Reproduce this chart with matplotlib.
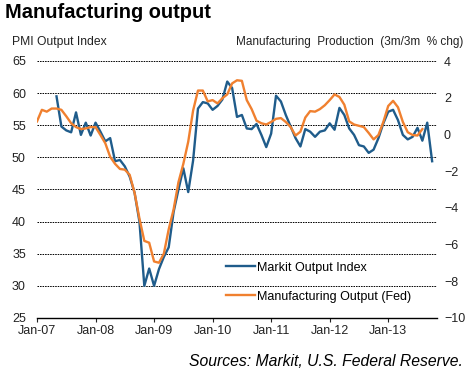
import numpy as np
import matplotlib
matplotlib.use("Agg")
import matplotlib.pyplot as plt

plt.rcParams['font.family'] = ['Liberation Sans', 'DejaVu Sans']

# Markit output index, monthly from May-07 (month index 4, Jan-07 = 0)
markit_start = 4
markit = [59.5, 54.8, 54.2, 53.9, 57.0, 53.5, 55.4, 53.4,
          55.4, 54.0, 52.5, 53.0, 49.4, 49.6, 48.6, 47.0, 44.5, 40.0, 30.0, 32.7,
          30.0, 32.6, 34.5, 36.0, 41.5, 45.0, 48.3, 44.6, 49.5, 57.6, 58.6, 58.4,
          57.4, 58.0, 59.0, 61.8, 60.8, 56.3, 56.6, 54.5, 54.4, 55.2, 53.5, 51.6,
          53.7, 59.6, 58.7, 56.6, 54.8, 53.0, 51.7, 54.4, 54.0, 53.2, 54.0, 54.2,
          55.3, 54.3, 57.7, 56.6, 54.5, 53.5, 51.9, 51.7, 50.7, 51.2, 53.0, 55.3,
          57.1, 57.4, 55.8, 53.5, 52.8, 53.2, 54.6, 52.6, 55.4, 49.4]

# Fed manufacturing production, 3m/3m % chg, monthly from Jan-07
fed = [0.71, 1.34, 1.24, 1.41, 1.41, 1.34, 0.99, 0.61, 0.40, 0.29, 0.33, 0.40,
       0.40, -0.03, -0.48, -1.22, -1.60, -1.88, -1.92, -2.20, -3.18, -4.58, -5.80, -5.90,
       -6.92, -6.99, -6.50, -5.17, -4.09, -2.60, -1.60, -0.40, 1.30, 2.39, 2.39, 1.80,
       1.87, 1.69, 1.97, 2.18, 2.78, 2.95, 2.92, 1.87, 1.38, 0.75, 0.61, 0.54,
       0.68, 0.85, 0.89, 0.68, 0.40, -0.06, 0.15, 0.92, 1.27, 1.24, 1.38, 1.59,
       1.87, 2.18, 2.04, 1.62, 0.71, 0.54, 0.47, 0.40, 0.08, -0.27, -0.03, 0.68,
       1.55, 1.83, 1.48, 0.68, 0.12, -0.03, -0.06, 0.29]

tick_labels = ['Jan-07', 'Jan-08', 'Jan-09', 'Jan-10', 'Jan-11', 'Jan-12', 'Jan-13']
left_ticks = [25, 30, 35, 40, 45, 50, 55, 60, 65]
right_ticks = [4, 2, 0, -2, -4, -6, -8, -10]

blue = '#1f5c8b'
orange = '#f0802f'

fig = plt.figure(figsize=(4.71, 3.75), dpi=100)
ax = fig.add_axes([37 / 471, 57 / 375, 400 / 471, 257 / 375])
ax2 = ax.twinx()

xm = np.arange(len(markit)) + markit_start
xf = np.arange(len(fed))
l1, = ax.plot(xm, markit, color=blue, lw=1.7, label='Markit Output Index')
l2, = ax2.plot(xf, fed, color=orange, lw=1.7, label='Manufacturing Output (Fed)')

ax.set_xlim(0, 82)
ax.set_ylim(25, 65)
ax2.set_ylim(-10, 4)
ax.set_yticks(left_ticks)
ax2.set_yticks(right_ticks)
ax.set_xticks(np.arange(len(tick_labels)) * 12)
ax.set_xticklabels(tick_labels)

for y in left_ticks[1:]:
    ax.axhline(y, color='black', lw=0.7, ls=(0, (1.6, 1.0)), zorder=0)

for a in (ax, ax2):
    for s in ('top', 'left', 'right'):
        a.spines[s].set_visible(False)
ax2.spines['bottom'].set_visible(False)
ax.spines['bottom'].set_linewidth(1.0)
ax.tick_params(axis='y', length=0, labelsize=9, pad=8, colors='#222222')
ax2.tick_params(axis='y', length=0, labelsize=9, pad=5, colors='#222222')
ax.tick_params(axis='x', length=3, width=0.8, direction='out', labelsize=9, pad=2,
               colors='#222222')

ax2.legend(handles=[l1, l2], loc='lower left', bbox_to_anchor=(0.46, 0.04),
           frameon=False, fontsize=9, handlelength=2.3, handletextpad=0.2,
           labelspacing=1.35, borderaxespad=0)

fig.text(5 / 471, 1 - 12 / 375, 'Manufacturing output', fontsize=14.4, fontweight='bold',
         va='center', ha='left')
fig.text(12 / 471, 1 - 42 / 375, 'PMI Output Index', fontsize=8.7, va='center', ha='left',
         color='#222222')
fig.text(463 / 471, 1 - 42 / 375, 'Manufacturing  Production  (3m/3m  % chg)', fontsize=8.5,
         va='center', ha='right', color='#222222')
fig.text(463 / 471, 1 - 361 / 375, 'Sources: Markit, U.S. Federal Reserve.', fontsize=11.3,
         style='italic', va='center', ha='right')

fig.savefig('out.png', dpi=100)
